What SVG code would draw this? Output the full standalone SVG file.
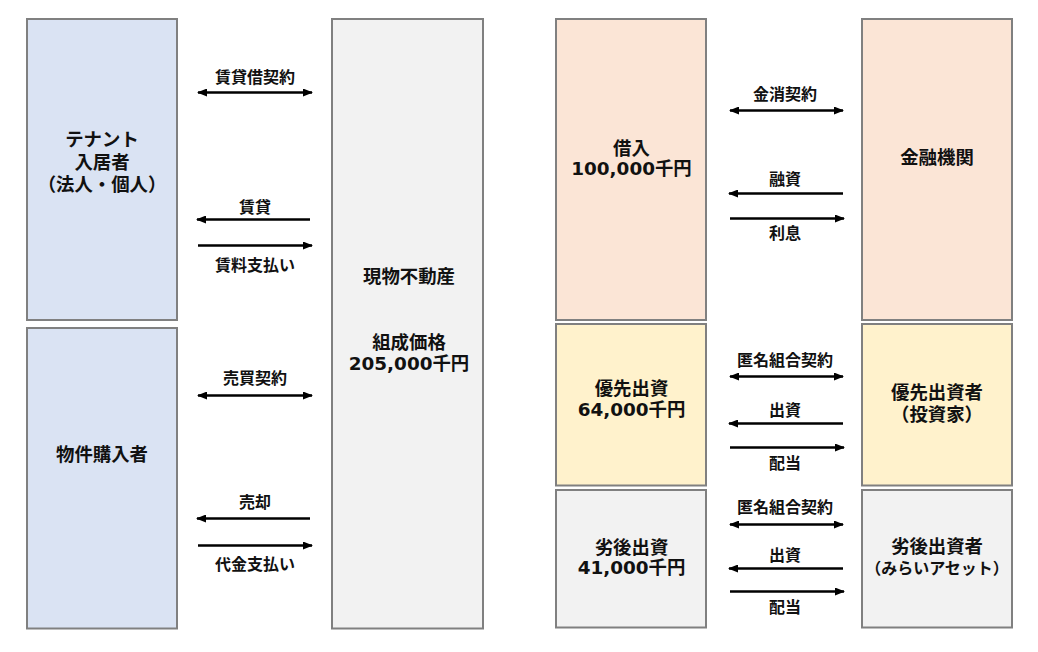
<svg xmlns="http://www.w3.org/2000/svg" width="1038" height="652" viewBox="0 0 1038 652">
<defs>
<marker id="ah" viewBox="0 0 10 8" refX="9" refY="4" markerWidth="10" markerHeight="8" markerUnits="userSpaceOnUse" orient="auto-start-reverse">
<path d="M0,0 L10,4 L0,8 z" fill="#000"/>
</marker>
</defs>
<style>
.box{stroke:#808080;stroke-width:2}
.blue{fill:#DAE3F3}.gray{fill:#F2F2F2}.peach{fill:#FBE5D6}.yellow{fill:#FFF2CC}
text{font-family:"Noto Sans CJK JP","Noto Sans",sans-serif;font-weight:bold;fill:#111;text-anchor:middle;dominant-baseline:central}
.n{font-size:18.4px}
.l{font-size:16px}
.num{font-family:"DejaVu Sans","Noto Sans CJK JP",sans-serif}
.sm{font-size:16px}
.c{stroke:#000;stroke-width:2.5;fill:none}
.s{marker-end:url(#ah)}
.d{marker-start:url(#ah);marker-end:url(#ah)}
</style>
<rect width="1038" height="652" fill="#fff"/>
<g id="tenant"><rect class="box blue" x="27" y="19" width="150" height="301"/>
<text class="n" x="102" y="138">テナント<tspan x="102" dy="23">入居者</tspan><tspan x="102" dy="22">（法人・個人）</tspan></text></g>
<g id="buyer"><rect class="box blue" x="27" y="328" width="150" height="300.5"/>
<text class="n" x="102" y="453">物件購入者</text></g>
<g id="property"><rect class="box gray" x="332" y="19" width="151" height="609.5"/>
<text class="n" x="409" y="275">現物不動産</text><text class="n" x="409" y="341">組成価格<tspan class="num" x="409" dy="22">205,000千円</tspan></text></g>
<g id="loan"><rect class="box peach" x="556" y="19" width="150" height="301"/>
<text class="n" x="631.5" y="146.5">借入<tspan class="num" x="631.5" dy="21.5">100,000千円</tspan></text></g>
<g id="bank"><rect class="box peach" x="862" y="19" width="150" height="301"/>
<text class="n" x="937" y="156">金融機関</text></g>
<g id="senior"><rect class="box yellow" x="556" y="324" width="150" height="161.5"/>
<text class="n" x="631.5" y="387">優先出資<tspan class="num" x="631.5" dy="22">64,000千円</tspan></text></g>
<g id="seniorInvestor"><rect class="box yellow" x="862" y="324" width="150" height="161.5"/>
<text class="n" x="937" y="391">優先出資者<tspan x="937" dy="21.5">（投資家）</tspan></text></g>
<g id="junior"><rect class="box gray" x="556" y="490" width="150" height="137.5"/>
<text class="n" x="631.5" y="545.5">劣後出資<tspan class="num" x="631.5" dy="21.5">41,000千円</tspan></text></g>
<g id="juniorInvestor"><rect class="box gray" x="862" y="490" width="150" height="137.5"/>
<text class="n" x="937" y="545">劣後出資者<tspan class="sm" x="937" dy="21.5">（みらいアセット）</tspan></text></g>
<g id="connectors">
<line class="c d" x1="198" y1="92.5" x2="312" y2="92.5"/><text class="l" x="255" y="75.5">賃貸借契約</text>
<line class="c s" x1="310" y1="219.5" x2="197" y2="219.5"/><text class="l" x="255" y="206">賃貸</text>
<line class="c s" x1="198" y1="245.5" x2="312" y2="245.5"/><text class="l" x="255" y="264">賃料支払い</text>
<line class="c d" x1="198" y1="395.5" x2="312" y2="395.5"/><text class="l" x="255" y="376.5">売買契約</text>
<line class="c s" x1="310" y1="518.5" x2="197" y2="518.5"/><text class="l" x="255" y="501">売却</text>
<line class="c s" x1="198" y1="545.5" x2="312" y2="545.5"/><text class="l" x="255" y="563">代金支払い</text>
<line class="c d" x1="730" y1="110.5" x2="843" y2="110.5"/><text class="l" x="785" y="93">金消契約</text>
<line class="c s" x1="843" y1="193.5" x2="729" y2="193.5"/><text class="l" x="785" y="178">融資</text>
<line class="c s" x1="730" y1="218.5" x2="844" y2="218.5"/><text class="l" x="785" y="232">利息</text>
<line class="c d" x1="730" y1="376.5" x2="843" y2="376.5"/><text class="l" x="785" y="359">匿名組合契約</text>
<line class="c s" x1="843" y1="423.5" x2="729" y2="423.5"/><text class="l" x="785" y="409">出資</text>
<line class="c s" x1="730" y1="447.5" x2="844" y2="447.5"/><text class="l" x="785" y="462">配当</text>
<line class="c d" x1="730" y1="524.5" x2="843" y2="524.5"/><text class="l" x="785" y="506">匿名組合契約</text>
<line class="c s" x1="843" y1="568.5" x2="729" y2="568.5"/><text class="l" x="785" y="554">出資</text>
<line class="c s" x1="730" y1="591.5" x2="844" y2="591.5"/><text class="l" x="785" y="606">配当</text>
</g>
</svg>
